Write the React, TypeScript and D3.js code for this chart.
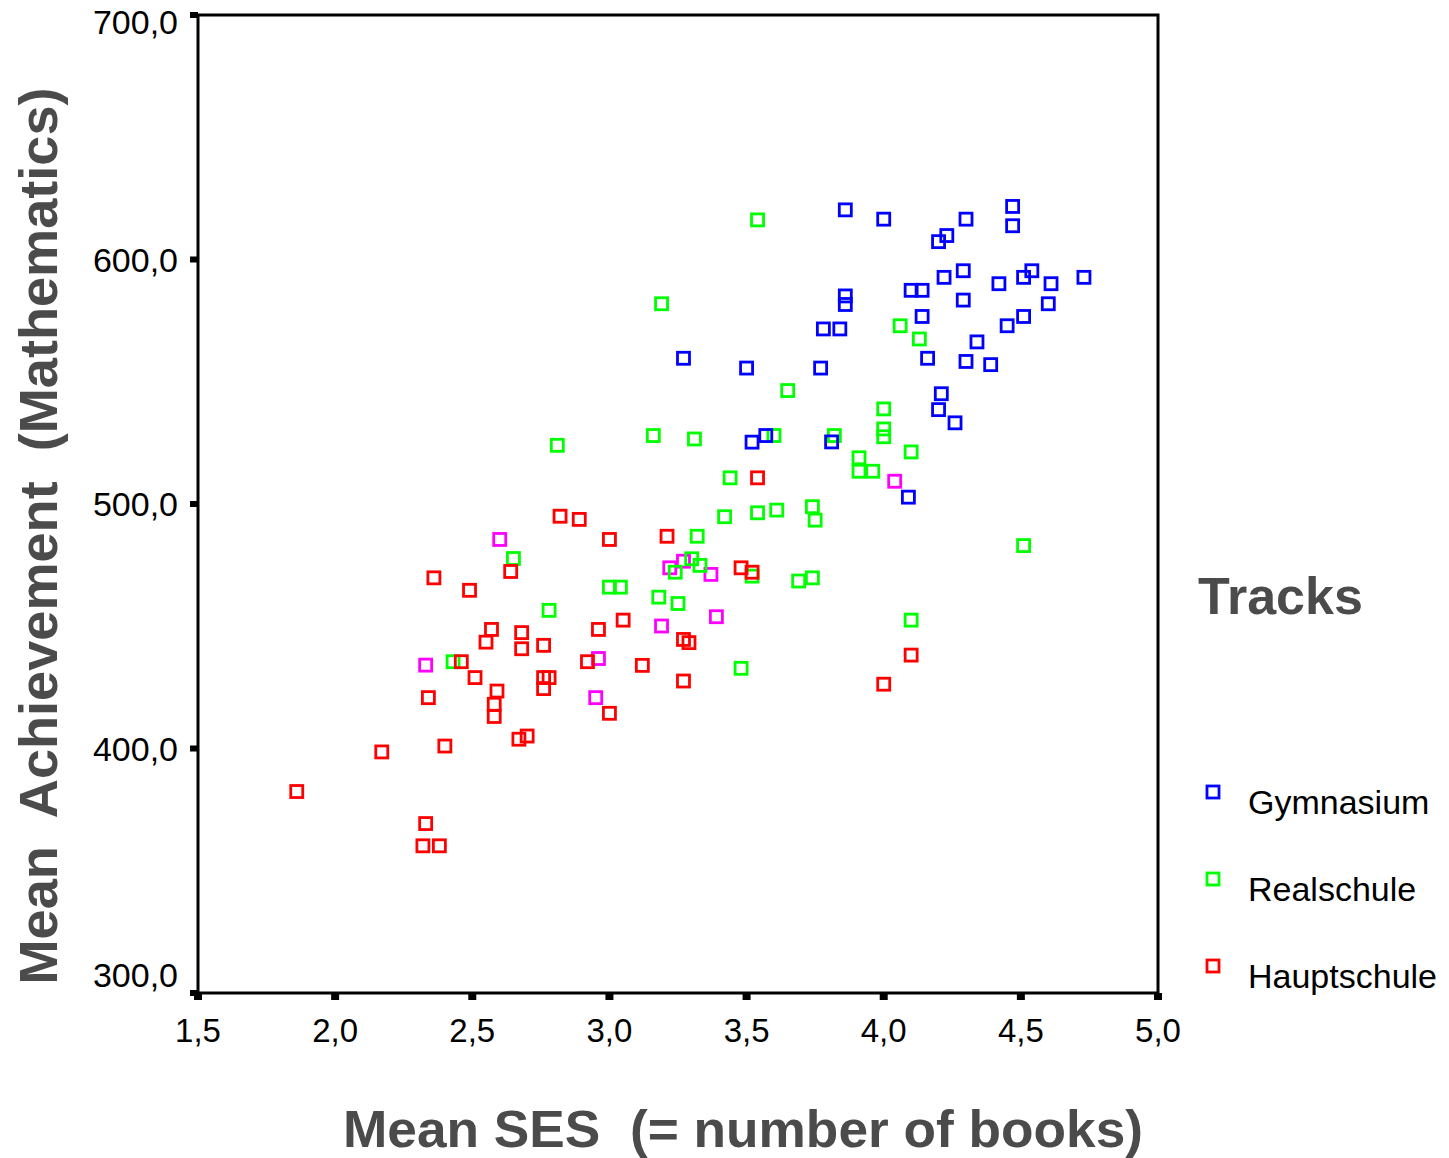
import React from 'react';
import * as d3 from 'd3';

// [mean SES, mean maths achievement] per school
const gymnasium: [number, number][] = [
  [3.86, 620.3], [4.0, 616.5], [4.3, 616.5], [4.47, 621.7], [4.47, 613.8],
  [4.23, 609.8], [4.2, 607.3], [4.29, 595.4], [4.22, 592.7], [4.54, 595.4],
  [4.51, 592.7], [4.73, 592.7], [4.42, 590.1], [4.61, 590.1], [3.86, 585.1],
  [3.86, 581.6], [4.1, 587.4], [4.14, 587.4], [4.29, 583.4], [4.6, 581.9],
  [4.14, 576.7], [4.51, 576.7], [4.45, 572.9], [3.78, 571.6], [3.84, 571.6],
  [4.34, 566.3], [4.16, 559.6], [4.3, 558.3], [4.39, 557.0], [3.27, 559.6],
  [3.5, 555.6], [3.77, 555.6], [4.21, 545.1], [4.2, 538.6], [4.26, 533.2],
  [3.57, 528.0], [3.52, 525.3], [3.81, 525.4], [4.09, 502.8],
];

const realschule: [number, number][] = [
  [3.54, 616.2], [3.19, 581.9], [4.06, 572.9], [4.13, 567.5], [3.65, 546.4],
  [4.0, 538.9], [4.0, 530.7], [4.0, 527.5], [3.16, 528.0], [3.31, 526.6],
  [3.6, 528.0], [3.82, 528.0], [4.1, 521.3], [3.91, 518.9], [3.91, 513.4],
  [3.96, 513.4], [3.44, 510.7], [3.42, 494.8], [3.54, 496.4], [3.61, 497.5],
  [3.74, 498.9], [3.75, 493.4], [3.32, 486.8], [3.3, 477.6], [3.33, 474.9],
  [3.24, 472.1], [3.52, 470.5], [3.69, 468.5], [3.74, 469.8], [3.18, 461.9],
  [3.25, 459.3], [4.51, 483.0], [4.1, 452.5], [3.48, 432.8], [2.81, 524.0],
  [2.65, 477.7], [3.0, 466.0], [3.04, 466.0], [2.78, 456.5], [2.43, 435.5],
];

const hauptschule: [number, number][] = [
  [3.54, 510.7], [3.21, 486.8], [3.48, 473.9], [3.52, 472.1], [3.27, 444.6],
  [3.29, 443.3], [4.1, 438.2], [3.12, 434.0], [3.27, 427.6], [4.0, 426.3],
  [2.82, 495.0], [2.89, 493.7], [3.0, 485.5], [2.64, 472.4], [2.36, 469.8],
  [2.49, 464.7], [3.05, 452.5], [2.57, 448.7], [2.68, 447.4], [2.96, 448.7],
  [2.55, 443.5], [2.68, 440.8], [2.76, 442.2], [2.92, 435.5], [2.46, 435.5],
  [2.51, 429.0], [2.76, 429.0], [2.78, 429.0], [2.76, 424.5], [2.59, 423.5],
  [2.34, 420.8], [2.58, 418.1], [2.58, 413.1], [3.0, 414.4], [2.67, 403.8],
  [2.7, 405.1], [2.4, 401.0], [2.17, 398.6], [1.86, 382.4], [2.33, 369.3],
  [2.32, 360.2], [2.38, 360.2],
];

// fourth group drawn in magenta, not listed in the legend
const otherTrack: [number, number][] = [
  [4.04, 509.3], [2.6, 485.5], [3.22, 473.9], [3.27, 476.6], [3.37, 471.2],
  [3.39, 453.9], [3.19, 450.1], [2.96, 436.8], [2.33, 434.1], [2.95, 420.8],
];

const xTicks = [1.5, 2.0, 2.5, 3.0, 3.5, 4.0, 4.5, 5.0];
const yTicks = [300, 400, 500, 600, 700];

const series = [
  { name: 'Gymnasium', color: '#0000ff', data: gymnasium, legend: true },
  { name: 'Realschule', color: '#00ff00', data: realschule, legend: true },
  { name: 'Hauptschule', color: '#ff0000', data: hauptschule, legend: true },
  { name: 'other', color: '#ff00ff', data: otherTrack, legend: false },
];

const W = 1449;
const H = 1158;
const left = 198, right = 1158, top = 15, bottom = 993;
const font = '"Liberation Sans", Arial, sans-serif';
const grey = '#4b4b4b';
const fmt = (v: number) => d3.format('.1f')(v).replace('.', ',');

export default function App() {
  const x = d3.scaleLinear().domain([1.5, 5]).range([left, right]);
  const y = d3.scaleLinear().domain([300, 700]).range([bottom, top]);
  const box = 12;

  // draw order: others first so the main tracks sit on top
  const order = [series[3], series[1], series[0], series[2]];
  const legendItems = series.filter(s => s.legend);

  return (
    <svg width={W} height={H} style={{ position: 'absolute', left: 0, top: 0, background: '#fff' }}>
      <rect x={0} y={0} width={W} height={H} fill="#fff" />

      {order.map(s => (
        <g key={s.name}>
          {s.data.map((d, i) => (
            <rect key={i} x={x(d[0]) - box / 2} y={y(d[1]) - box / 2} width={box} height={box}
              fill="none" stroke={s.color} strokeWidth={2.8} />
          ))}
        </g>
      ))}

      {/* frame */}
      <rect x={left} y={top} width={right - left} height={bottom - top} fill="none" stroke="#000" strokeWidth={3} />

      {/* y axis ticks + labels */}
      {yTicks.map(t => (
        <g key={t}>
          <rect x={left - 8} y={y(t) - 3} width={8} height={6} fill="#000" />
          <text x={178} y={Math.min(Math.max(y(t), top + 7), bottom - 18)} textAnchor="end"
            dominantBaseline="central" fontFamily={font} fontSize={34} fill="#000">{fmt(t)}</text>
        </g>
      ))}

      {/* x axis ticks + labels */}
      {xTicks.map(t => (
        <g key={t}>
          <rect x={x(t) - 4} y={bottom} width={8} height={7} fill="#000" />
          <text x={x(t)} y={1042} textAnchor="middle" fontFamily={font} fontSize={33} fill="#000">{fmt(t)}</text>
        </g>
      ))}

      <text x={743} y={1147} textAnchor="middle" fontFamily={font} fontWeight="bold" fontSize={52}
        fill={grey} textLength={800} lengthAdjust="spacingAndGlyphs" style={{ whiteSpace: 'pre' }}>
        {'Mean SES  (= number of books)'}
      </text>

      <text transform="translate(57,536) rotate(-90)" textAnchor="middle" fontFamily={font} fontWeight="bold"
        fontSize={54} fill={grey} textLength={897} lengthAdjust="spacingAndGlyphs" style={{ whiteSpace: 'pre' }}>
        {'Mean  Achievement  (Mathematics)'}
      </text>

      {/* legend */}
      <text x={1198} y={614} fontFamily={font} fontWeight="bold" fontSize={52} fill={grey}>Tracks</text>
      {legendItems.map((s, i) => (
        <g key={s.name} transform={`translate(0, ${792 + i * 87})`}>
          <rect x={1207} y={-6} width={12} height={12} fill="none" stroke={s.color} strokeWidth={2.8} />
          <text x={1248} y={10} dominantBaseline="central" fontFamily={font} fontSize={34} fill="#000">{s.name}</text>
        </g>
      ))}
    </svg>
  );
}
